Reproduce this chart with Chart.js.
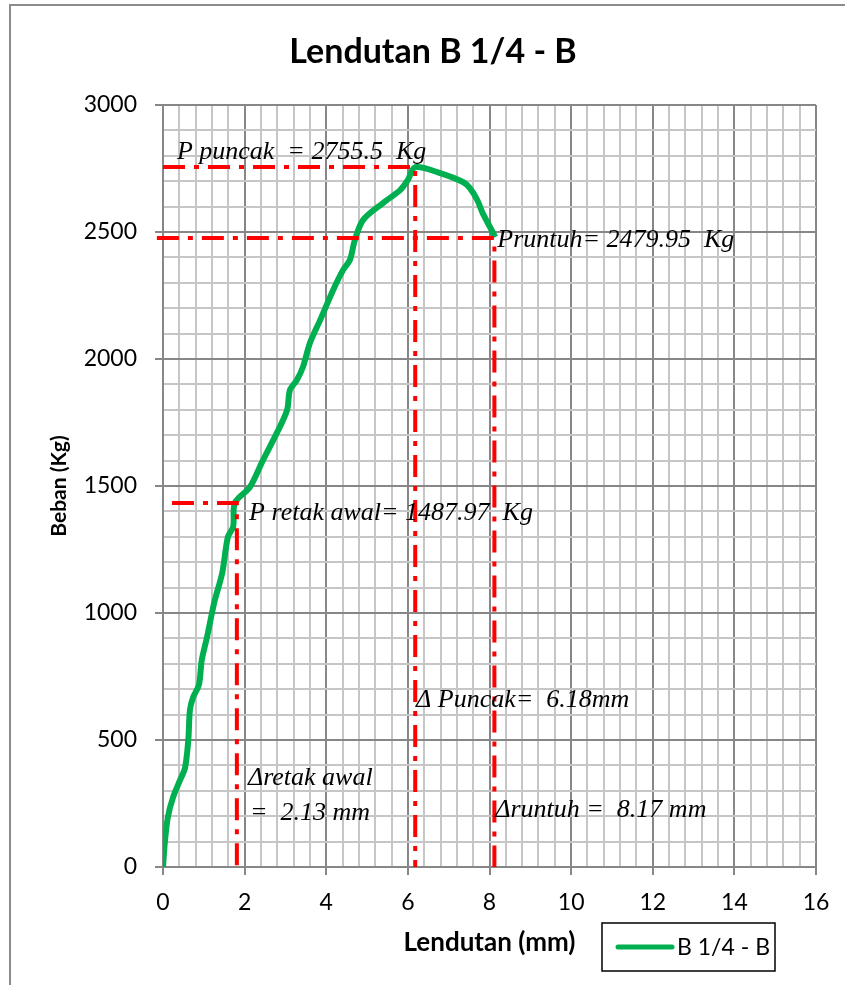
<!DOCTYPE html>
<html>
<head>
<meta charset="utf-8">
<script src="https://cdn.jsdelivr.net/npm/chart.js@4.4.1/dist/chart.umd.min.js"></script>
<style>
  body { margin: 0; background: #fff; overflow: hidden; }
  #lendutan_chart { display: block; }
</style>
</head>
<body>
<canvas id="lendutan_chart" width="845" height="985"></canvas>
<script>
// deflection (mm) vs load (kg)
var deflection = [0, 0.05, 0.12, 0.25, 0.42, 0.54, 0.62, 0.66, 0.74, 0.88, 0.95, 1.08, 1.2, 1.27, 1.45, 1.59, 1.72, 1.76,
  2.13, 2.45, 2.79, 3.04, 3.11, 3.28, 3.43, 3.6, 3.85, 4.17, 4.41, 4.58, 4.7, 4.9, 5.39, 5.81, 6.0, 6.18,
  6.79, 7.35, 7.52, 7.7, 7.82, 8.01, 8.14];
var load = [0, 106, 197, 276, 343, 390, 500, 618, 669, 717, 815, 906, 1000, 1051, 1157, 1299, 1340, 1433,
  1496, 1602, 1709, 1799, 1878, 1917, 1969, 2063, 2153, 2272, 2350, 2390, 2468, 2547, 2614, 2665, 2705, 2755.5,
  2732, 2697, 2673, 2626, 2579, 2520, 2480];

// red guide lines (peak, collapse, first crack)
var peakLineX = [0, 6.18, 6.18];
var peakLineY = [2755.5, 2755.5, 0];
var collapseLineX = [-0.15, 8.12, 8.12];
var collapseLineY = [2476, 2476, 0];
var crackLineX = [0.22, 1.81, 1.81];
var crackLineY = [1433, 1433, 0];

// labels written on the plot
var noteText = ['P puncak  = 2755.5  Kg', 'Pruntuh= 2479.95  Kg', 'P retak awal= 1487.97  Kg',
  '\u0394 Puncak=  6.18mm', '\u0394retak awal', '=  2.13 mm', '\u0394runtuh =  8.17 mm'];
var noteX = [0.34, 8.19, 2.11, 6.2, 2.08, 2.13, 8.14];
var noteY = [2815, 2469, 1394, 657, 350, 213, 224];

var chartTitle = 'Lendutan B 1/4 - B';
var seriesLabel = 'B 1/4 - B';

function toPoints(xs, ys) {
  return xs.map(function (x, i) { return {x: x, y: ys[i]}; });
}

function isMajor(v, step) {
  var r = v / step;
  return Math.abs(r - Math.round(r)) < 1e-6;
}

var guideStyle = {
  borderColor: '#ff0000',
  borderWidth: 4,
  borderDash: [22, 9, 5, 9],
  pointRadius: 0,
  tension: 0,
  order: 0
};

var chartDecor = {
  id: 'chartDecor',
  beforeDraw: function (chart) {
    var c = chart.ctx;
    c.save();
    c.fillStyle = '#fff';
    c.fillRect(0, 0, chart.width, chart.height);
    c.strokeStyle = '#8c8c8c';
    c.lineWidth = 2;
    c.strokeRect(10, 5, chart.width + 20, chart.height + 20);
    // title sits a bit right of centre, like the original sheet
    c.fillStyle = '#000';
    c.font = 'bold 34px Lato, sans-serif';
    c.textAlign = 'center';
    c.textBaseline = 'middle';
    c.fillText(chartTitle, 433, 52);
    c.restore();
  },
  afterDatasetsDraw: function (chart) {
    var c = chart.ctx;
    var xs = chart.scales.x, ys = chart.scales.y;
    c.save();
    c.font = 'italic 26px "Liberation Serif", "Times New Roman", serif';
    c.fillStyle = '#000';
    c.textBaseline = 'middle';
    c.textAlign = 'left';
    for (var i = 0; i < noteText.length; i++) {
      c.fillText(noteText[i], xs.getPixelForValue(noteX[i]), ys.getPixelForValue(noteY[i]));
    }
    c.restore();
  },
  afterDraw: function (chart) {
    // legend box, bottom right
    var c = chart.ctx;
    var area = chart.chartArea;
    var ds = chart.data.datasets[3];
    var bx = area.right - 214, by = area.bottom + 56, bw = 173, bh = 48;
    c.save();
    c.strokeStyle = '#000';
    c.lineWidth = 1.5;
    c.strokeRect(bx, by, bw, bh);
    c.strokeStyle = ds.borderColor;
    c.lineWidth = 5;
    c.lineCap = 'round';
    c.beginPath();
    c.moveTo(bx + 16, by + bh / 2);
    c.lineTo(bx + 70, by + bh / 2);
    c.stroke();
    c.fillStyle = '#000';
    c.font = '23px Lato, sans-serif';
    c.textBaseline = 'middle';
    c.fillText(ds.label, bx + 75, by + bh / 2 + 1);
    c.restore();
  }
};

var ctx = document.getElementById('lendutan_chart');
var lendutanchart = new Chart(ctx, {
  type: 'line',
  data: {
    datasets: [
      Object.assign({label: 'peak', data: toPoints(peakLineX, peakLineY)}, guideStyle),
      Object.assign({label: 'collapse', data: toPoints(collapseLineX, collapseLineY), clip: false}, guideStyle),
      Object.assign({label: 'crack', data: toPoints(crackLineX, crackLineY)}, guideStyle),
      {
        label: seriesLabel,
        data: toPoints(deflection, load),
        borderColor: '#00b050',
        borderWidth: 6,
        pointRadius: 0,
        tension: 0.3,
        fill: false,
        order: 1
      }
    ]
  },
  options: {
    responsive: false,
    animation: false,
    layout: {
      padding: {left: 0, right: 29, top: 105, bottom: 0}
    },
    plugins: {
      legend: {display: false},
      tooltip: {enabled: false},
      title: {display: false}
    },
    scales: {
      x: {
        type: 'linear',
        min: 0,
        max: 16,
        afterFit: function (scale) { scale.height = 118; },
        ticks: {
          stepSize: 0.4,
          autoSkip: false,
          maxRotation: 0,
          padding: 14,
          color: '#000',
          font: {family: 'Lato', size: 23},
          callback: function (v) { return isMajor(v, 2) ? String(Math.round(v)) : ''; }
        },
        grid: {
          lineWidth: 2,
          tickLength: 8,
          color: function (c) { return isMajor(c.tick.value, 2) ? '#878787' : '#c6c6c6'; },
          tickColor: function (c) { return isMajor(c.tick.value, 2) ? '#878787' : 'rgba(0,0,0,0)'; }
        },
        border: {color: '#878787', width: 2},
        title: {
          display: true,
          text: 'Lendutan (mm)',
          color: '#000',
          font: {family: 'Lato', size: 26, weight: 'bold'},
          padding: {top: 0, bottom: 27}
        }
      },
      y: {
        type: 'linear',
        min: 0,
        max: 3000,
        afterFit: function (scale) { scale.width = 163; },
        ticks: {
          stepSize: 100,
          autoSkip: false,
          padding: 18,
          color: '#000',
          font: {family: 'Lato', size: 23},
          callback: function (v) { return isMajor(v, 500) ? String(v) : ''; }
        },
        grid: {
          lineWidth: 2,
          tickLength: 8,
          color: function (c) { return isMajor(c.tick.value, 500) ? '#878787' : '#c6c6c6'; },
          tickColor: function (c) { return isMajor(c.tick.value, 500) ? '#878787' : 'rgba(0,0,0,0)'; }
        },
        border: {color: '#878787', width: 2},
        title: {
          display: true,
          text: 'Beban (Kg)',
          color: '#000',
          font: {family: 'Lato', size: 21, weight: 'bold'},
          padding: {top: 47, bottom: 0}
        }
      }
    }
  },
  plugins: [chartDecor]
});
</script>
</body>
</html>
